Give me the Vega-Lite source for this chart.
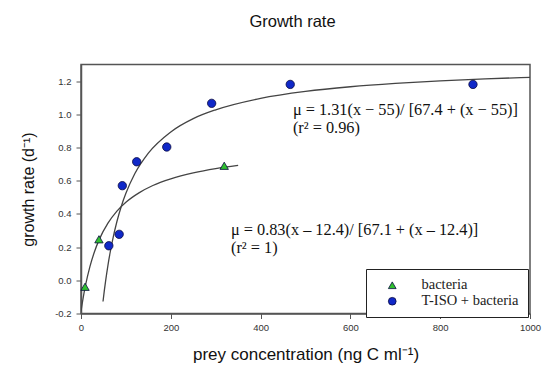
{
  "$schema": "https://vega.github.io/schema/vega-lite/v6.json",
  "autosize": {"type": "none"},
  "padding": {"left": 81, "top": 64.5, "right": 15, "bottom": 55.5},
  "width": 449,
  "height": 249,
  "background": "white",
  "title": {"text": "Growth rate", "font": "Liberation Sans", "fontSize": 16.5, "fontWeight": "normal", "color": "#111", "offset": 34, "dx": -13},
  "config": {
    "view": {"stroke": "#555", "strokeWidth": 1.5},
    "axis": {"grid": false, "labelFlush": false, "labelOverlap": false, "domainColor": "#555", "domainWidth": 1.5, "tickColor": "#555", "tickSize": 5, "labelFont": "Liberation Sans", "labelFontSize": 9.5, "labelColor": "#333", "titleFont": "Liberation Sans", "titleFontWeight": "normal", "titleColor": "#111"},
    "axisX": {"format": "d", "labelPadding": 4, "titleFontSize": 17, "titlePadding": 14},
    "axisY": {"format": ".1f", "labelExpr": "replace(datum.label, '−', '-')", "labelPadding": 5, "titleFontSize": 16, "titlePadding": 18}
  },
  "datasets": {
    "obs": [
      {"prey": 9, "rate": -0.039, "series": "bacteria"},
      {"prey": 40, "rate": 0.247, "series": "bacteria"},
      {"prey": 319, "rate": 0.69, "series": "bacteria"},
      {"prey": 62, "rate": 0.208, "series": "T-ISO + bacteria"},
      {"prey": 85, "rate": 0.277, "series": "T-ISO + bacteria"},
      {"prey": 92, "rate": 0.57, "series": "T-ISO + bacteria"},
      {"prey": 124, "rate": 0.714, "series": "T-ISO + bacteria"},
      {"prey": 191, "rate": 0.803, "series": "T-ISO + bacteria"},
      {"prey": 291, "rate": 1.066, "series": "T-ISO + bacteria"},
      {"prey": 466, "rate": 1.18, "series": "T-ISO + bacteria"},
      {"prey": 873, "rate": 1.18, "series": "T-ISO + bacteria"}
    ],
    "fit": [
      {"prey": 0, "rate": -0.188, "curve": "bacteria"},
      {"prey": 5, "rate": -0.103, "curve": "bacteria"},
      {"prey": 10, "rate": -0.031, "curve": "bacteria"},
      {"prey": 20, "rate": 0.084, "curve": "bacteria"},
      {"prey": 30, "rate": 0.172, "curve": "bacteria"},
      {"prey": 40, "rate": 0.242, "curve": "bacteria"},
      {"prey": 60, "rate": 0.344, "curve": "bacteria"},
      {"prey": 80, "rate": 0.417, "curve": "bacteria"},
      {"prey": 100, "rate": 0.47, "curve": "bacteria"},
      {"prey": 130, "rate": 0.528, "curve": "bacteria"},
      {"prey": 160, "rate": 0.571, "curve": "bacteria"},
      {"prey": 200, "rate": 0.611, "curve": "bacteria"},
      {"prey": 250, "rate": 0.647, "curve": "bacteria"},
      {"prey": 300, "rate": 0.673, "curve": "bacteria"},
      {"prey": 350, "rate": 0.692, "curve": "bacteria"},
      {"prey": 49, "rate": -0.128, "curve": "tiso"},
      {"prey": 52, "rate": -0.061, "curve": "tiso"},
      {"prey": 55, "rate": 0.0, "curve": "tiso"},
      {"prey": 60, "rate": 0.0905, "curve": "tiso"},
      {"prey": 65, "rate": 0.169, "curve": "tiso"},
      {"prey": 70, "rate": 0.238, "curve": "tiso"},
      {"prey": 80, "rate": 0.354, "curve": "tiso"},
      {"prey": 90, "rate": 0.448, "curve": "tiso"},
      {"prey": 100, "rate": 0.524, "curve": "tiso"},
      {"prey": 120, "rate": 0.643, "curve": "tiso"},
      {"prey": 150, "rate": 0.766, "curve": "tiso"},
      {"prey": 200, "rate": 0.894, "curve": "tiso"},
      {"prey": 250, "rate": 0.974, "curve": "tiso"},
      {"prey": 300, "rate": 1.027, "curve": "tiso"},
      {"prey": 400, "rate": 1.096, "curve": "tiso"},
      {"prey": 500, "rate": 1.138, "curve": "tiso"},
      {"prey": 600, "rate": 1.166, "curve": "tiso"},
      {"prey": 700, "rate": 1.186, "curve": "tiso"},
      {"prey": 800, "rate": 1.201, "curve": "tiso"},
      {"prey": 900, "rate": 1.213, "curve": "tiso"},
      {"prey": 1000, "rate": 1.223, "curve": "tiso"}
    ],
    "notes": [
      {"note": "fit T-ISO", "line1": "μ = 1.31(x − 55)/ [67.4 + (x − 55)]", "line2": "(r² = 0.96)"},
      {"note": "fit bacteria", "line1": "μ = 0.83(x – 12.4)/ [67.1 + (x – 12.4)]", "line2": "(r² = 1)"}
    ]
  },
  "layer": [
    {
      "data": {"name": "fit"},
      "mark": {"type": "line", "color": "#444", "strokeWidth": 1.3, "clip": true, "interpolate": "monotone"},
      "encoding": {
        "x": {"field": "prey", "type": "quantitative", "scale": {"domain": [0, 1000], "nice": false, "zero": false},
          "axis": {"title": "prey concentration (ng C ml⁻¹)", "values": [0, 200, 400, 600, 800, 1000]}},
        "y": {"field": "rate", "type": "quantitative", "scale": {"domain": [-0.2, 1.3], "nice": false, "zero": false},
          "axis": {"title": "growth rate (d⁻¹)", "values": [-0.2, 0, 0.2, 0.4, 0.6, 0.8, 1.0, 1.2]}},
        "detail": {"field": "curve"},
        "order": {"field": "prey"}
      }
    },
    {
      "data": {"name": "obs"},
      "mark": {"type": "point", "filled": true, "stroke": "#0a0a40", "strokeWidth": 0.8, "opacity": 1},
      "encoding": {
        "x": {"field": "prey", "type": "quantitative", "axis": {"title": "prey concentration (ng C ml⁻¹)", "values": [0, 200, 400, 600, 800, 1000]}},
        "y": {"field": "rate", "type": "quantitative", "axis": {"title": "growth rate (d⁻¹)", "values": [-0.2, 0, 0.2, 0.4, 0.6, 0.8, 1.0, 1.2]}},
        "color": {"field": "series", "type": "nominal", "scale": {"domain": ["bacteria", "T-ISO + bacteria"], "range": ["#2fc02f", "#1028c8"]},
          "legend": {"title": null, "orient": "none", "legendX": 285, "legendY": 204.5, "strokeColor": "#222", "padding": 9, "fillColor": "white", "symbolOffset": 10, "labelOffset": 22, "labelFont": "Liberation Serif", "labelFontSize": 14.5, "labelColor": "#222", "rowPadding": 1, "symbolSize": 60, "symbolStrokeColor": "#0a0a40", "symbolStrokeWidth": 0.8}},
        "shape": {"field": "series", "type": "nominal", "scale": {"domain": ["bacteria", "T-ISO + bacteria"], "range": ["triangle-up", "circle"]}},
        "size": {"value": 70}
      }
    },
    {
      "data": {"name": "notes"},
      "transform": [{"filter": "datum.note == 'fit T-ISO'"}],
      "mark": {"type": "text", "align": "left", "baseline": "middle", "font": "Liberation Serif", "fontSize": 16.3, "color": "#111"},
      "encoding": {"x": {"datum": 472, "type": "quantitative", "axis": {"title": "prey concentration (ng C ml⁻¹)", "values": [0, 200, 400, 600, 800, 1000]}}, "y": {"datum": 1.028, "type": "quantitative", "axis": {"title": "growth rate (d⁻¹)", "values": [-0.2, 0, 0.2, 0.4, 0.6, 0.8, 1.0, 1.2]}}, "text": {"field": "line1"}}
    },
    {
      "data": {"name": "notes"},
      "transform": [{"filter": "datum.note == 'fit T-ISO'"}],
      "mark": {"type": "text", "align": "left", "baseline": "middle", "font": "Liberation Serif", "fontSize": 16.3, "color": "#111"},
      "encoding": {"x": {"datum": 472, "type": "quantitative", "axis": {"title": "prey concentration (ng C ml⁻¹)", "values": [0, 200, 400, 600, 800, 1000]}}, "y": {"datum": 0.92, "type": "quantitative", "axis": {"title": "growth rate (d⁻¹)", "values": [-0.2, 0, 0.2, 0.4, 0.6, 0.8, 1.0, 1.2]}}, "text": {"field": "line2"}}
    },
    {
      "data": {"name": "notes"},
      "transform": [{"filter": "datum.note == 'fit bacteria'"}],
      "mark": {"type": "text", "align": "left", "baseline": "middle", "font": "Liberation Serif", "fontSize": 16.3, "color": "#111"},
      "encoding": {"x": {"datum": 334, "type": "quantitative", "axis": {"title": "prey concentration (ng C ml⁻¹)", "values": [0, 200, 400, 600, 800, 1000]}}, "y": {"datum": 0.305, "type": "quantitative", "axis": {"title": "growth rate (d⁻¹)", "values": [-0.2, 0, 0.2, 0.4, 0.6, 0.8, 1.0, 1.2]}}, "text": {"field": "line1"}}
    },
    {
      "data": {"name": "notes"},
      "transform": [{"filter": "datum.note == 'fit bacteria'"}],
      "mark": {"type": "text", "align": "left", "baseline": "middle", "font": "Liberation Serif", "fontSize": 16.3, "color": "#111"},
      "encoding": {"x": {"datum": 334, "type": "quantitative", "axis": {"title": "prey concentration (ng C ml⁻¹)", "values": [0, 200, 400, 600, 800, 1000]}}, "y": {"datum": 0.197, "type": "quantitative", "axis": {"title": "growth rate (d⁻¹)", "values": [-0.2, 0, 0.2, 0.4, 0.6, 0.8, 1.0, 1.2]}}, "text": {"field": "line2"}}
    }
  ]
}
